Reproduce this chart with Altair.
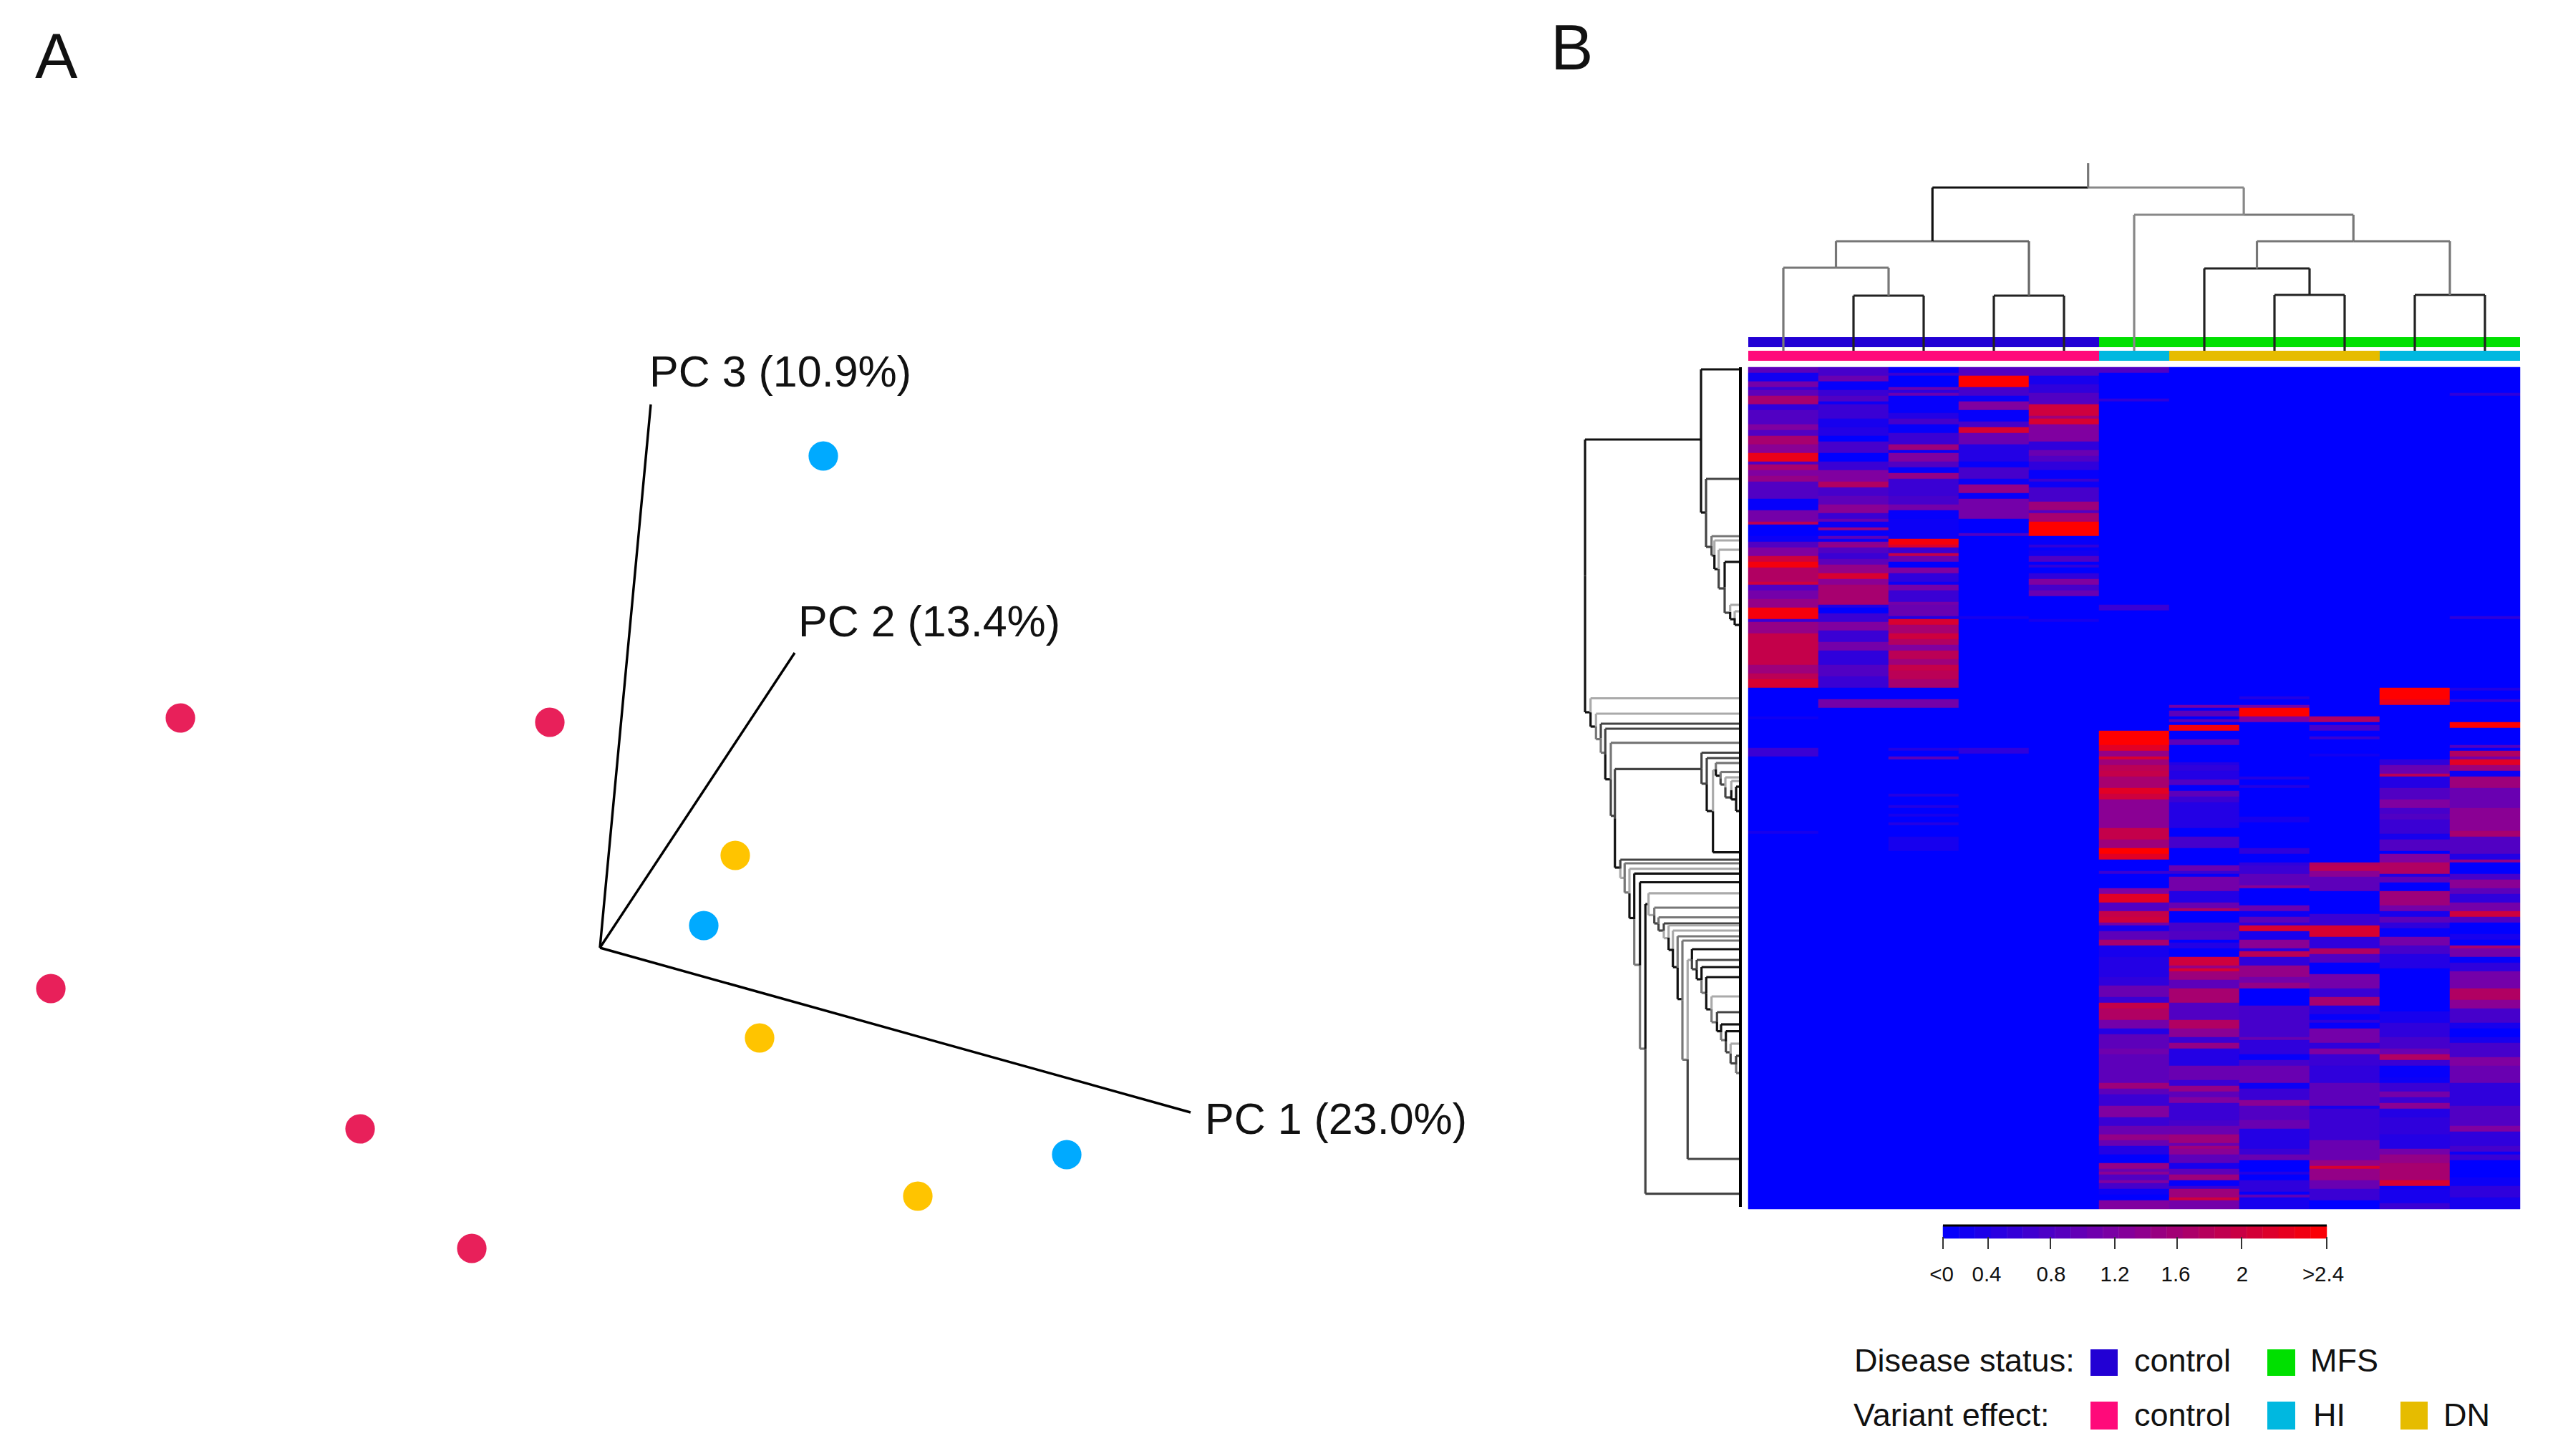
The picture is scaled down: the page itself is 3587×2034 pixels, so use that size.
import altair as alt
import pandas as pd

# ---------- Panel A: PCA projection (in figure pixels) ----------
PCA_X = [252, 768, 71, 503, 659, 1150, 983, 1490, 1027, 1061, 1282]
PCA_Y = [1003, 1009, 1381, 1577, 1744, 637, 1293, 1613, 1195, 1450, 1671]
PCA_GROUP = ["control"] * 5 + ["HI"] * 3 + ["DN"] * 3
PCA_COLORS = {"control": "#e8205a", "HI": "#00aaff", "DN": "#ffc400"}
PC_ORIGIN = (838, 1324)
PC_ENDS = [(1663, 1554), (1110, 912), (909, 565)]
PC_LABELS = ["PC 1 (23.0%)", "PC 2 (13.4%)", "PC 3 (10.9%)"]
PC_LABEL_POS = [(1683, 1566), (1115, 871), (907, 522)]

# ---------- Panel B: heatmap columns as (first row, value) runs, 294 rows ----------
C1 = [(0,.8),(2,.15),(5,1.0),(7,.5),(8,.8),(10,1.5),(13,.4),(15,.7),(20,1.1),(22,.7),(24,1.5),(27,1.2),(30,2.2),(33,.7),(34,1.5),(36,1.1),(38,1.3),(40,.7),(46,.05),(50,1.0),(54,1.7),(55,0),(59,.1),(61,.7),(63,1.1),(66,1.9),(68,2.3),(70,1.6),(75,1.9),(76,.7),(78,1.0),(81,1.3),(84,2.3),(88,.5),(89,1.3),(93,1.8),(104,1.4),(107,1.7),(109,2.0),(112,0),(122,.15),(123,0),(133,.5),(136,0),(162,.2),(163,0)]
C2 = [(0,.6),(3,.9),(5,.05),(8,.5),(10,.7),(12,.1),(13,.5),(18,.2),(21,.3),(24,0),(26,.6),(30,0),(33,.5),(36,1.1),(40,1.6),(42,.6),(45,.8),(48,1.2),(51,.5),(53,.9),(54,.1),(56,1.4),(57,.05),(59,.8),(60,.1),(61,1.2),(62,1.3),(63,.7),(65,.5),(67,.8),(69,1.3),(72,2.0),(74,1.2),(76,1.5),(83,.3),(84,0),(86,.5),(89,1.1),(92,.5),(96,1.0),(99,.4),(104,.7),(108,.5),(112,0),(116,1.0),(119,0)]
C3 = [(0,.05),(2,.5),(3,0),(7,.9),(8,.4),(9,.9),(10,.05),(16,.3),(18,.6),(20,.05),(23,.5),(27,1.4),(29,.1),(30,1.1),(33,.7),(35,.05),(37,1.3),(39,.5),(45,.6),(48,1.0),(50,.05),(53,.1),(60,2.3),(62,2.0),(63,.5),(65,1.8),(66,.9),(68,0),(70,1.1),(72,.4),(75,.1),(76,1.0),(78,.5),(82,1.0),(83,.9),(87,.3),(88,2.0),(90,1.5),(93,1.9),(95,1.6),(97,1.1),(99,1.7),(102,1.4),(104,1.8),(106,1.7),(109,1.5),(112,0),(116,1.0),(119,0),(133,.3),(134,0),(136,.8),(137,0),(149,.3),(150,0),(153,.3),(154,0),(156,.2),(157,0),(159,.3),(160,0),(164,.2),(169,0)]
C4 = [(0,.7),(3,2.4),(7,.6),(10,.1),(12,1.1),(15,.05),(19,.6),(21,2.0),(23,.9),(27,.3),(33,.05),(35,.6),(39,.1),(41,1.3),(44,.05),(46,1.0),(53,0),(58,.7),(59,0),(87,.2),(88,0),(133,.4),(135,0)]
C5 = [(0,.7),(3,.2),(6,.4),(9,.7),(13,1.9),(17,1.4),(18,2.0),(20,1.1),(26,.4),(29,.9),(31,.7),(33,.4),(36,.05),(39,.5),(40,.1),(42,.6),(47,1.4),(50,.7),(51,1.5),(54,2.4),(59,0),(60,.05),(62,.4),(63,.05),(64,.15),(66,.7),(68,0),(69,.4),(70,0),(72,.4),(74,1.1),(76,.6),(78,.9),(80,0),(88,.2),(89,0)]
C6 = [(0,.7),(2,0),(11,.4),(12,0),(83,.5),(85,0),(127,2.4),(132,2.1),(134,1.3),(136,2.0),(137,1.4),(139,1.7),(141,1.8),(143,1.5),(147,2.1),(149,1.9),(151,1.2),(161,1.8),(165,1.4),(168,2.4),(170,2.1),(172,0),(176,.5),(177,0),(182,1.1),(184,2.1),(187,.7),(190,1.8),(192,1.9),(194,1.0),(195,.2),(197,.8),(200,1.5),(202,.2),(206,.3),(213,.4),(216,.9),(220,.5),(222,1.8),(224,1.6),(228,1.0),(231,.3),(233,.8),(238,.95),(240,.8),(250,1.4),(252,.8),(254,.5),(258,1.1),(262,.5),(265,.9),(268,1.3),(270,.9),(272,.3),(275,0),(278,1.3),(280,.9),(281,1.2),(282,.7),(284,1.1),(285,.6),(287,.1),(289,0),(291,1.1)]
C7 = [(118,1.0),(119,0),(120,.8),(122,0),(123,.8),(124,0),(125,2.3),(127,0),(130,.8),(132,0),(138,.3),(139,.4),(141,.3),(144,.7),(146,0),(148,.8),(150,.5),(152,.3),(161,0),(164,.6),(168,0),(174,.9),(176,.5),(177,.05),(178,1.0),(183,.3),(187,.9),(189,1.6),(190,0),(194,.6),(197,.7),(200,0),(201,.3),(203,0),(206,1.9),(209,1.3),(210,2.0),(211,1.4),(214,.8),(217,1.5),(222,.7),(228,1.6),(231,1.2),(234,.5),(236,1.3),(238,.3),(244,.9),(249,.5),(251,1.3),(253,.8),(255,1.1),(257,.5),(263,.6),(265,.9),(268,1.4),(271,.9),(272,1.4),(273,1.2),(275,.8),(278,.2),(280,.8),(282,1.4),(284,.05),(286,.5),(287,1.4),(290,1.9),(291,1.0)]
C8 = [(115,.3),(116,0),(118,1.0),(119,2.4),(122,1.1),(124,0),(143,.3),(144,0),(146,.3),(147,0),(157,.2),(159,0),(168,.4),(170,0),(173,.4),(174,.5),(177,.8),(181,1.2),(182,0),(188,.9),(190,.1),(192,.8),(194,.4),(195,2.0),(197,.2),(200,1.2),(203,.3),(204,1.7),(206,.4),(209,1.3),(213,1.0),(215,1.3),(217,0),(223,.6),(234,.9),(235,.4),(240,.05),(242,.6),(244,.9),(250,.1),(252,.5),(256,1.2),(258,.7),(263,.9),(266,.3),(273,.5),(275,.9),(277,0),(281,.3),(282,0),(284,.4),(288,.05),(289,.8),(290,.2)]
C9 = [(122,1.6),(124,0),(125,.6),(127,0),(129,.5),(130,0),(135,.15),(136,0),(173,1.6),(174,1.7),(176,1.2),(178,.8),(183,0),(191,.5),(195,2.0),(199,.4),(203,1.6),(205,.7),(208,0),(212,1.0),(217,.5),(220,1.5),(223,.3),(226,.05),(228,.4),(229,.05),(231,1.0),(236,.4),(238,1.1),(240,.5),(244,.4),(250,.8),(258,.2),(259,.5),(270,.9),(277,1.3),(279,2.0),(280,1.3),(284,.9),(287,.5),(291,0)]
C10 = [(112,2.4),(116,2.2),(118,0),(137,.4),(139,.9),(142,1.7),(143,.3),(147,.7),(151,1.1),(154,.6),(156,.7),(158,.5),(163,.2),(165,.7),(169,0),(170,1.1),(173,1.6),(177,.3),(178,.8),(180,0),(183,1.4),(188,1.0),(190,.2),(192,.8),(194,.4),(196,.05),(199,1.0),(202,.6),(205,.3),(210,0),(225,.2),(229,.4),(234,.6),(238,.9),(240,1.6),(242,.5),(244,.05),(248,.1),(250,.5),(253,1.0),(255,.5),(257,1.2),(259,.3),(262,.4),(268,.3),(273,1.0),(275,1.3),(278,1.5),(284,2.0),(286,.1),(287,.2),(292,.5)]
C11 = [(9,.4),(10,0),(87,.4),(88,0),(112,.3),(113,0),(116,.5),(117,0),(124,2.4),(126,0),(132,.7),(133,0),(134,1.6),(136,1.0),(137,2.1),(139,1.4),(141,.1),(143,1.4),(147,.9),(154,1.2),(162,1.5),(164,.7),(170,.3),(172,1.3),(173,0),(177,.6),(179,1.2),(182,.8),(184,.4),(187,1.0),(190,1.9),(192,.7),(194,0),(198,.2),(200,0),(202,1.5),(203,1.0),(206,.05),(208,.4),(211,1.0),(217,1.6),(221,1.2),(224,.6),(229,.2),(231,0),(234,.2),(236,.6),(241,1.1),(244,.9),(250,.4),(258,.7),(265,1.1),(267,.4),(272,.6),(274,.1),(275,.5),(277,0),(283,.1),(286,.4),(290,.2)]
COLUMNS = [C1, C2, C3, C4, C5, C6, C7, C8, C9, C10, C11]
N_ROWS = 294

DISEASE = ["control"] * 5 + ["MFS"] * 6
VARIANT = ["control"] * 5 + ["HI"] + ["DN"] * 3 + ["HI"] * 2
DISEASE_COLORS = {"control": "#2200d4", "MFS": "#00e000"}
VARIANT_COLORS = {"control": "#ff0a7a", "HI": "#00b8e0", "DN": "#e6bc00"}

# Column dendrogram: (left child, right child, height in figure px, left arm colour, right arm colour)
# A child is a sample index, or "m<k>" for merge k.
TOP_MERGES = [
    (1, 2, 413, "#222222", "#222222"),      # m0
    (0, "m0", 374, "#777777", "#777777"),   # m1
    (3, 4, 413, "#222222", "#222222"),      # m2
    ("m1", "m2", 337, "#777777", "#666666"),# m3
    (7, 8, 412, "#222222", "#222222"),      # m4
    (6, "m4", 375, "#222222", "#222222"),   # m5
    (9, 10, 412, "#222222", "#222222"),     # m6
    ("m5", "m6", 337, "#777777", "#777777"),# m7
    (5, "m7", 300, "#888888", "#777777"),   # m8
    ("m3", "m8", 262, "#111111", "#888888"),# m9
]

# Row dendrogram nodes: (x, y top, y bottom, x of top child, x of bottom child, top colour, bottom colour)
# None = arm runs straight to a leaf at the heatmap edge.  All read in figure px.
K, D, M, L = "#111111", "#444444", "#777777", "#aaaaaa"
LEFT_NODES = [
    (2214, 614, 995, 2376, 2221.7, K, K),
    (2376, 516, 716, None, 2383, K, K),
    (2383, 669, 764, None, 2390.7, D, D),
    (2390.7, 749, 776, None, 2394.7, M, D),
    (2394.7, 755, 795, None, 2400.7, L, K),
    (2400.7, 768, 822, None, 2409, L, D),
    (2409, 785, 856, None, 2416.7, K, D),
    (2416.7, 845, 865, None, 2423, L, K),
    (2423, 854, 873, None, None, L, K),
    (2221.7, 975.5, 1015, None, 2229.3, L, K),
    (2229.3, 997, 1032.6, None, 2236, L, M),
    (2236, 1011, 1051.5, None, 2242.3, D, M),
    (2242.3, 1018, 1088.7, None, 2250, D, K),
    (2250, 1037.7, 1139.7, None, 2255.7, M, D),
    (2255.7, 1074.4, 1212, 2376.7, 2263.3, D, K),
    (2376.7, 1051.5, 1094.8, None, 2384, D, D),
    (2384, 1059, 1133, None, 2392.7, D, K),
    (2392.7, 1076, 1190.7, 2396.7, None, L, K),
    (2396.7, 1065.8, 1083.6, None, 2403.3, M, K),
    (2403.3, 1078.5, 1096, None, 2410, M, D),
    (2410, 1086, 1114, None, 2418.3, L, D),
    (2418.3, 1091, 1116.8, None, 2425, L, K),
    (2425, 1099, 1133, None, None, K, K),
    (2263.3, 1201, 1226.4, None, 2269.3, D, L),
    (2269.3, 1206, 1246.8, None, 2276, M, M),
    (2276, 1213.7, 1282.5, None, 2282.7, L, K),
    (2282.7, 1220.3, 1347.8, None, 2290.7, K, M),
    (2290.7, 1232.5, 1465, None, 2298.3, K, M),
    (2298.3, 1263, 1667.6, 2302.7, None, K, D),
    (2302.7, 1247.8, 1278.4, None, 2310.7, L, L),
    (2310.7, 1268, 1290, None, 2316.7, M, D),
    (2316.7, 1281.5, 1300, None, 2324, M, D),
    (2324, 1290, 1310.6, None, 2330.7, D, L),
    (2330.7, 1292.7, 1327, None, 2336.7, L, K),
    (2336.7, 1300, 1351, None, 2343.3, L, K),
    (2343.3, 1308, 1395.7, None, 2350, M, K),
    (2350, 1314, 1480.4, None, 2357.3, M, M),
    (2357.3, 1341, 1619, 2363.3, None, L, D),
    (2363.3, 1326, 1354, None, 2370, K, D),
    (2370, 1341, 1368, None, 2376.7, D, K),
    (2376.7, 1351, 1387, None, 2383.3, K, M),
    (2383.3, 1365, 1410, None, 2390.7, K, K),
    (2390.7, 1392, 1428, None, 2398.3, L, M),
    (2398.3, 1414, 1440.6, None, 2404, D, K),
    (2404, 1431, 1453, None, 2410.7, K, M),
    (2410.7, 1440.6, 1470, None, 2417.3, K, D),
    (2417.3, 1458, 1485.5, None, 2425, L, D),
    (2425, 1475, 1499, None, None, D, M),
]

# Colour key
KEY_EDGES = [2714, 3250]
KEY_TICK_X = [2714, 2777, 2864, 2954, 3041, 3131, 3250]
KEY_LABEL_X = [2712, 2775, 2865, 2954, 3039, 3132, 3245]
KEY_LABELS = ["<0", "0.4", "0.8", "1.2", "1.6", "2", ">2.4"]
KEY_STEPS = 24

LEGEND_TITLES = [("Disease status:", 2590, 1902), ("Variant effect:", 2589, 1978)]
LEGEND_ITEMS = [
    ("control", 2981, 1902, 2920, 2958, 1885, 1922, "#2200d4"),
    ("MFS", 3227, 1902, 3167, 3206, 1885, 1922, "#00e000"),
    ("control", 2981, 1978, 2920, 2958, 1958, 1997, "#ff0a7a"),
    ("HI", 3231, 1978, 3167, 3206, 1958, 1997, "#00b8e0"),
    ("DN", 3413, 1978, 3353, 3391, 1958, 1997, "#e6bc00"),
]

FONT = "Liberation Sans"
TEXT = "#111111"
PAGE = 8
A_W, B_W, H = 2140, 1420, 2018
SPLIT = PAGE + A_W
HM_X0, COL_W = 2442, 98
HM_Y0, ROW_H = 513, 4

def bx(px):
    return (px - HM_X0) / COL_W

def by(py):
    return (py - HM_Y0) / ROW_H

# ---------- Panel A ----------
ax = alt.X("x:Q", axis=None, scale=alt.Scale(domain=[PAGE, SPLIT], nice=False, zero=False))
ay = alt.Y("y:Q", axis=None, scale=alt.Scale(domain=[PAGE, PAGE + H], nice=False, zero=False, reverse=True))

pc_lines = pd.DataFrame([
    {"x": PC_ORIGIN[0], "y": PC_ORIGIN[1], "x2": e[0], "y2": e[1]} for e in PC_ENDS
])
pts = pd.DataFrame({"x": PCA_X, "y": PCA_Y, "group": PCA_GROUP})
pc_text = pd.DataFrame([
    {"x": p[0], "y": p[1], "t": t} for p, t in zip(PC_LABEL_POS, PC_LABELS)
])

panel_a = alt.layer(
    alt.Chart(pc_lines).mark_rule(color="#000000", strokeWidth=3.4).encode(
        x=ax, y=ay, x2="x2:Q", y2="y2:Q"),
    alt.Chart(pts).mark_circle(size=1700, opacity=1).encode(
        x=ax, y=ay,
        color=alt.Color("group:N", legend=None, scale=alt.Scale(
            domain=list(PCA_COLORS), range=list(PCA_COLORS.values())))),
    alt.Chart(pc_text).mark_text(align="left", baseline="middle", font=FONT, fontSize=61, color=TEXT).encode(
        x=ax, y=ay, text="t:N"),
    alt.Chart(pd.DataFrame([{"x": 49, "y": 82, "t": "A"}])).mark_text(
        align="left", baseline="middle", font=FONT, fontSize=89, color=TEXT).encode(
        x=ax, y=ay, text="t:N"),
).properties(width=A_W, height=H)

# ---------- Panel B ----------
bxs = alt.X("x:Q", axis=None, scale=alt.Scale(domain=[bx(SPLIT), bx(SPLIT + B_W)], nice=False, zero=False))
bys = alt.Y("y:Q", axis=None, scale=alt.Scale(domain=[by(PAGE), by(PAGE + H)], nice=False, zero=False, reverse=True))

cells = []
for c, runs in enumerate(COLUMNS):
    runs = sorted(runs)
    if runs[0][0] > 0:
        runs = [(0, 0)] + runs
    for i, (start, val) in enumerate(runs):
        end = runs[i + 1][0] if i + 1 < len(runs) else N_ROWS
        cells.append({"x": c, "x2": c + 1, "y": start, "y2": end, "v": val})
heat = pd.DataFrame(cells)
heat_scale = alt.Scale(domain=[0, 1.1, 2.4], range=["#0000ff", "#8000a0", "#ff0000"], clamp=True, interpolate="rgb")

annot = []
for i, (d, v) in enumerate(zip(DISEASE, VARIANT)):
    annot.append({"x": i, "x2": i + 1, "y": by(471), "y2": by(485), "c": DISEASE_COLORS[d]})
    annot.append({"x": i, "x2": i + 1, "y": by(490), "y2": by(504), "c": VARIANT_COLORS[v]})
annot = pd.DataFrame(annot)

# column dendrogram from merge table
segs = []
LEAF_Y = by(490)
pos, hgt = {}, {}
def child_xy(ch):
    if isinstance(ch, str):
        return pos[ch], hgt[ch]
    return ch + 0.5, LEAF_Y
for k, (a, b, h, ca, cb) in enumerate(TOP_MERGES):
    xa, ya = child_xy(a)
    xb, yb = child_xy(b)
    yy = by(h)
    mid = (xa + xb) / 2
    segs += [
        {"x": xa, "x2": xa, "y": yy, "y2": ya, "c": ca},
        {"x": xb, "x2": xb, "y": yy, "y2": yb, "c": cb},
        {"x": xa, "x2": mid, "y": yy, "y2": yy, "c": ca},
        {"x": mid, "x2": xb, "y": yy, "y2": yy, "c": cb},
    ]
    pos[f"m{k}"], hgt[f"m{k}"] = mid, yy
root_k = f"m{len(TOP_MERGES) - 1}"
segs.append({"x": pos[root_k], "x2": pos[root_k], "y": by(228), "y2": hgt[root_k], "c": "#777777"})

# row dendrogram from node table
SPINE_X = 2431
for (nx, yt, yb, ct, cb, col_t, col_b) in LEFT_NODES:
    ym = (yt + yb) / 2
    segs += [
        {"x": bx(nx), "x2": bx(nx), "y": by(yt), "y2": by(ym), "c": col_t},
        {"x": bx(nx), "x2": bx(nx), "y": by(ym), "y2": by(yb), "c": col_b},
        {"x": bx(nx), "x2": bx(ct if ct else SPINE_X), "y": by(yt), "y2": by(yt), "c": col_t},
        {"x": bx(nx), "x2": bx(cb if cb else SPINE_X), "y": by(yb), "y2": by(yb), "c": col_b},
    ]
segs = pd.DataFrame(segs)
spine = pd.DataFrame([{"x": bx(SPINE_X), "x2": bx(SPINE_X), "y": by(513), "y2": by(1686)}])

# colour key
key = []
w = (KEY_EDGES[1] - KEY_EDGES[0]) / KEY_STEPS
for i in range(KEY_STEPS):
    key.append({"x": bx(KEY_EDGES[0] + i * w), "x2": bx(KEY_EDGES[0] + (i + 1) * w),
                "y": by(1712), "y2": by(1730), "v": 2.4 * (i + 0.5) / KEY_STEPS})
key = pd.DataFrame(key)
key_top = pd.DataFrame([{"x": bx(KEY_EDGES[0]), "x2": bx(KEY_EDGES[1]), "y": by(1712), "y2": by(1712)}])
key_ticks = pd.DataFrame([{"x": bx(t), "x2": bx(t), "y": by(1728), "y2": by(1745)} for t in KEY_TICK_X])
key_text = pd.DataFrame([{"x": bx(p), "y": by(1781), "t": t} for p, t in zip(KEY_LABEL_X, KEY_LABELS)])

leg_titles = pd.DataFrame([{"x": bx(p), "y": by(q), "t": t} for t, p, q in LEGEND_TITLES])
leg_labels = pd.DataFrame([{"x": bx(i[1]), "y": by(i[2]), "t": i[0]} for i in LEGEND_ITEMS])
leg_swatch = pd.DataFrame([{"x": bx(i[3]), "x2": bx(i[4]), "y": by(i[5]), "y2": by(i[6]), "c": i[7]} for i in LEGEND_ITEMS])

identity = alt.Color("c:N", scale=None, legend=None)

panel_b = alt.layer(
    alt.Chart(heat).mark_rect(strokeWidth=0.5).encode(
        x=bxs, x2="x2:Q", y=bys, y2="y2:Q",
        color=alt.Color("v:Q", scale=heat_scale, legend=None),
        stroke=alt.Stroke("v:Q", scale=heat_scale, legend=None)),
    alt.Chart(annot).mark_rect().encode(
        x=bxs, x2="x2:Q", y=bys, y2="y2:Q", color=identity),
    alt.Chart(segs).mark_rule(strokeWidth=3.2).encode(
        x=bxs, x2="x2:Q", y=bys, y2="y2:Q", color=identity),
    alt.Chart(spine).mark_rule(color="#000000", strokeWidth=4).encode(
        x=bxs, x2="x2:Q", y=bys, y2="y2:Q"),
    alt.Chart(key).mark_rect(strokeWidth=0.5).encode(
        x=bxs, x2="x2:Q", y=bys, y2="y2:Q",
        color=alt.Color("v:Q", scale=heat_scale, legend=None),
        stroke=alt.Stroke("v:Q", scale=heat_scale, legend=None)),
    alt.Chart(key_top).mark_rule(color="#000000", strokeWidth=3).encode(
        x=bxs, x2="x2:Q", y=bys, y2="y2:Q"),
    alt.Chart(key_ticks).mark_rule(color="#333333", strokeWidth=2).encode(
        x=bxs, x2="x2:Q", y=bys, y2="y2:Q"),
    alt.Chart(key_text).mark_text(align="center", baseline="middle", font=FONT, fontSize=29.5, color=TEXT).encode(
        x=bxs, y=bys, text="t:N"),
    alt.Chart(leg_titles).mark_text(align="left", baseline="middle", font=FONT, fontSize=45, color=TEXT).encode(
        x=bxs, y=bys, text="t:N"),
    alt.Chart(leg_labels).mark_text(align="left", baseline="middle", font=FONT, fontSize=45, color=TEXT).encode(
        x=bxs, y=bys, text="t:N"),
    alt.Chart(leg_swatch).mark_rect().encode(
        x=bxs, x2="x2:Q", y=bys, y2="y2:Q", color=identity),
    alt.Chart(pd.DataFrame([{"x": bx(2166), "y": by(70), "t": "B"}])).mark_text(
        align="left", baseline="middle", font=FONT, fontSize=89, color=TEXT).encode(
        x=bxs, y=bys, text="t:N"),
).resolve_scale(color="independent", stroke="independent").properties(width=B_W, height=H)

chart = alt.hconcat(panel_a, panel_b, spacing=0).configure_view(stroke=None).configure_legend(disable=True).properties(
    padding=0, background="#ffffff")

chart.save("out.html", embed_options={"renderer": "svg", "actions": False})
